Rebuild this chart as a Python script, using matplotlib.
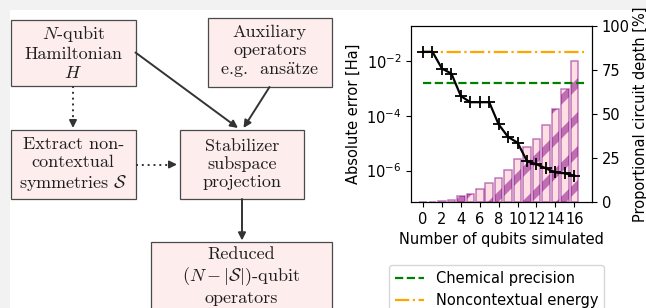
import numpy as np
import matplotlib
matplotlib.use('Agg')
import matplotlib.pyplot as plt
from matplotlib.patches import Rectangle
from matplotlib.collections import LineCollection
from matplotlib.ticker import NullLocator

# Daten
n_qubits = [0, 1, 2, 3, 4, 5, 6, 7, 8, 9, 10, 11, 12, 13, 14, 15, 16]
abs_error = [2.26e-2, 2.26e-2, 5.5e-3, 3.6e-3, 5.4e-4, 3.2e-4, 3.2e-4, 3.2e-4,
             4.9e-5, 1.7e-5, 1.05e-5, 2.2e-6, 1.7e-6, 1.2e-6, 8.5e-7, 7.9e-7, 6.5e-7]
depth_pct = [0, 0, 0.4, 1.1, 3.6, 4.5, 7.2, 10.6, 13.8, 18.0, 24.2, 31.0,
             35.6, 44.0, 53.0, 64.0, 80.0]
chem_precision = 1.6e-3
noncon_error = 2.26e-2
x_ticks = [0, 2, 4, 6, 8, 10, 12, 14, 16]

plt.rcParams['mathtext.fontset'] = 'cm'

W, H = 646, 308
fig = plt.figure(figsize=(W / 100, H / 100), dpi=100, facecolor='#f2f2f2')

# --- Flussdiagramm (Pixelkoordinaten) ---
ax0 = fig.add_axes([0, 0, 1, 1])
ax0.set_xlim(0, W)
ax0.set_ylim(H, 0)
ax0.axis('off')
ax0.add_patch(Rectangle((10, 10), W, H, facecolor='white', edgecolor='none'))

box_fc = '#fdeded'
box_ec = '#4a4a4a'
txt_col = '#1e1e1e'
fs_box = 13


def box(x0, y0, x1, y1, lines, yc):
    ax0.add_patch(Rectangle((x0, y0), x1 - x0, y1 - y0, facecolor=box_fc,
                            edgecolor=box_ec, lw=0.9))
    ax0.text((x0 + x1) / 2, yc, '\n'.join(lines), ha='center', va='center',
             fontsize=fs_box, family='cmr10', color=txt_col, linespacing=1.2)


box(11, 19.5, 135.5, 85.5, ['$N$-qubit', 'Hamiltonian', '$H$'], 52.5)
box(207.5, 17.5, 332, 87, ['Auxiliary', 'operators', r'e.g.  ans$\ddot{\rm a}$tze'], 52)
box(11, 130, 135.5, 199, ['Extract non-', 'contextual', r'symmetries $\mathcal{S}$'], 164.5)
box(179.5, 130, 304, 199, ['Stabilizer', 'subspace', 'projection'], 164.5)
box(151, 241.5, 332, 330, ['Reduced', r'$(N-|\mathcal{S}|)$-qubit', 'operators'], 276)

arr_col = '#333333'


def arrow(p0, p1, dotted=False):
    if dotted:
        v = np.array(p1) - np.array(p0)
        v = v / np.hypot(*v)
        mid = np.array(p1) - 8 * v
        ax0.plot([p0[0], mid[0]], [p0[1], mid[1]], color=arr_col, lw=1.4,
                 linestyle=(0, (1, 2)))
        ax0.annotate('', xy=p1, xytext=mid,
                     arrowprops=dict(arrowstyle='-|>', color=arr_col, lw=1.3,
                                     shrinkA=0, shrinkB=0, mutation_scale=11))
    else:
        ax0.annotate('', xy=p1, xytext=p0,
                     arrowprops=dict(arrowstyle='-|>', color=arr_col, lw=1.4,
                                     shrinkA=0, shrinkB=0, mutation_scale=11))


arrow((135.5, 52.5), (238, 128))
arrow((269.5, 87), (243.5, 128))
arrow((73, 85.5), (73, 128), dotted=True)
arrow((135.5, 164.5), (177, 164.5), dotted=True)
arrow((242, 199), (242, 240.5))

# --- Diagramm ---
fs = 10.5
ax = fig.add_axes([411 / W, 1 - 202 / H, (592 - 411) / W, (202 - 26) / H])
ax2 = ax.twinx()

bars = ax2.bar(n_qubits, depth_pct, width=0.8, color='pink', alpha=0.5,
               edgecolor='purple', lw=1.1, zorder=1)

# Diagonale Streifen (Schraffur) in Zoll-Koordinaten, auf die Balken beschnitten
period = 0.34
offs = np.arange(-7.0, 4.0, period) + 0.07
segs = [[(0, c), (6.46, 6.46 + c)] for c in offs]
for b in bars:
    lc = LineCollection(segs, colors='purple', alpha=0.5, linewidths=5.2,
                        transform=fig.dpi_scale_trans, zorder=1.2)
    ax2.add_collection(lc, autolim=False)
    lc.set_clip_path(b.get_path(), b.get_transform())

ax2.set_ylim(0, 100)
ax2.set_yticks([0, 25, 50, 75, 100])
ax2.set_ylabel('Proportional circuit depth [%]', fontsize=fs, labelpad=2)
ax2.tick_params(labelsize=fs)

h_chem = ax.hlines(chem_precision, 0, 17, colors='green', linestyles='--',
                   lw=1.6, label='Chemical precision')
h_nc = ax.hlines(noncon_error, 0, 17, colors='orange', linestyles='-.',
                 lw=1.6, label='Noncontextual energy')
ax.plot(n_qubits, abs_error, color='black', marker='+', markersize=9,
        markeredgewidth=1.3, lw=1.6)
ax.set_yscale('log')
ax.set_ylim(7e-8, 0.2)
ax.set_yticks([1e-2, 1e-4, 1e-6])
ax.yaxis.set_minor_locator(NullLocator())
ax.set_xticks(x_ticks)
ax.set_ylabel('Absolute error [Ha]', fontsize=fs)
ax.set_xlabel('Number of qubits simulated', fontsize=fs)
ax.tick_params(labelsize=fs)
ax.set_zorder(ax2.get_zorder() + 1)
ax.patch.set_visible(False)

fig.legend(handles=[h_chem, h_nc], loc='upper left',
           bbox_to_anchor=(389 / W, 1 - 265 / H), borderaxespad=0,
           fontsize=fs)

fig.savefig('out.png', dpi=100, facecolor=fig.get_facecolor())
